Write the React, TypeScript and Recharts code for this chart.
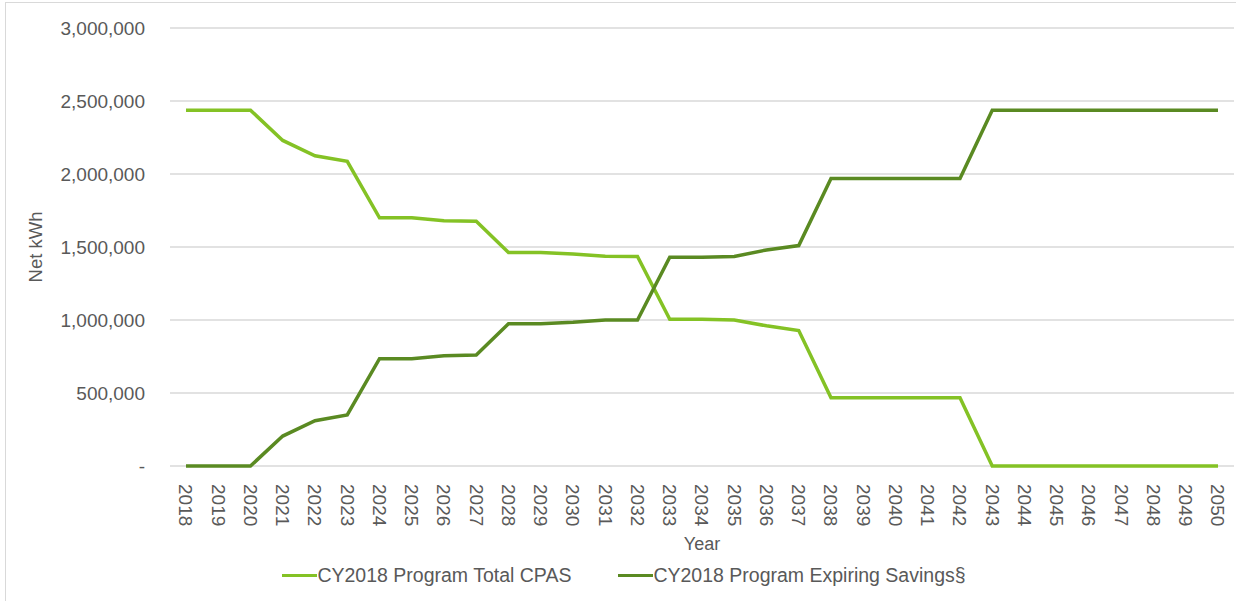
import React from "react"
import { LineChart, Line, XAxis, YAxis, CartesianGrid, Legend } from "recharts"

const years = [
  "2018", "2019", "2020", "2021", "2022", "2023", "2024", "2025", "2026", "2027",
  "2028", "2029", "2030", "2031", "2032", "2033", "2034", "2035", "2036", "2037",
  "2038", "2039", "2040", "2041", "2042", "2043", "2044", "2045", "2046", "2047",
  "2048", "2049", "2050",
]

const totalCpas = [
  2437000, 2437000, 2437000, 2230000, 2125000, 2087000, 1700000, 1700000, 1680000, 1677000,
  1462000, 1462000, 1452000, 1437000, 1435000, 1005000, 1005000, 1000000, 960000, 928000,
  467000, 467000, 467000, 467000, 467000, 0, 0, 0, 0, 0,
  0, 0, 0,
]

const expiringSavings = [
  0, 0, 0, 205000, 310000, 350000, 735000, 735000, 755000, 760000,
  975000, 975000, 985000, 1000000, 1000000, 1430000, 1430000, 1435000, 1480000, 1510000,
  1970000, 1970000, 1970000, 1970000, 1970000, 2437000, 2437000, 2437000, 2437000, 2437000,
  2437000, 2437000, 2437000,
]

const yTicks = [0, 500000, 1000000, 1500000, 2000000, 2500000, 3000000]

const LIGHT = "#84c225"
const DARK = "#5a8a22"
const TEXT = "#595959"
const FONT = "'Liberation Sans', Arial, sans-serif"

const data = years.map((year, i) => ({
  year,
  cpas: totalCpas[i],
  expiring: expiringSavings[i],
}))

const fmt = (v: number) => (v === 0 ? "-" : v.toLocaleString("en-US"))

function YearTick(props: any) {
  const { x, y, payload } = props
  return (
    <text
      x={x}
      y={y + 10}
      transform={`rotate(90, ${x}, ${y + 10})`}
      dy="0.35em"
      textAnchor="start"
      fill={TEXT}
      fontSize={19}
      fontFamily={FONT}
    >
      {payload.value}
    </text>
  )
}

function YLabel(props: any) {
  const { viewBox } = props
  const cx = 36
  const cy = viewBox.y + viewBox.height / 2
  return (
    <text
      x={cx}
      y={cy}
      transform={`rotate(-90, ${cx}, ${cy})`}
      textAnchor="middle"
      dy="0.35em"
      fill={TEXT}
      fontSize={18.5}
      fontFamily={FONT}
    >
      Net kWh
    </text>
  )
}

function XLabel(props: any) {
  const { viewBox } = props
  return (
    <text
      x={viewBox.x + viewBox.width / 2}
      y={550}
      textAnchor="middle"
      fill={TEXT}
      fontSize={18}
      fontFamily={FONT}
    >
      Year
    </text>
  )
}

const legendItems = [
  { label: "CY2018 Program Total CPAS", color: LIGHT },
  { label: "CY2018 Program Expiring Savings§", color: DARK },
]

function LegendContent() {
  return (
    <div style={{ display: "flex", justifyContent: "center", gap: 47, marginLeft: 14, paddingTop: 8 }}>
      {legendItems.map((it) => (
        <div key={it.label} style={{ display: "flex", alignItems: "center" }}>
          <div style={{ width: 35, height: 3, background: it.color }} />
          <span style={{ color: TEXT, fontSize: 19.5, fontFamily: FONT }}>{it.label}</span>
        </div>
      ))}
    </div>
  )
}

export default function App() {
  return (
    <div style={{ position: "absolute", left: 0, top: 0, width: 1236, height: 601, background: "#fff" }}>
      <div
        style={{
          position: "absolute",
          left: 5,
          top: 2,
          width: 1231,
          height: 599,
          borderLeft: "1px solid #d9d9d9",
          borderTop: "1px solid #d9d9d9",
          boxSizing: "border-box",
        }}
      />
      <LineChart width={1236} height={601} data={data} margin={{ top: 28, right: 2, left: 0, bottom: 0 }}>
        <CartesianGrid vertical={false} stroke="#d9d9d9" strokeWidth={1.5} />
        <XAxis
          dataKey="year"
          interval={0}
          axisLine={false}
          tickLine={false}
          height={90}
          padding={{ left: 16, right: 16 }}
          tick={<YearTick />}
          label={<XLabel />}
        />
        <YAxis
          width={170}
          domain={[0, 3000000]}
          ticks={yTicks}
          tickFormatter={fmt}
          axisLine={false}
          tickLine={false}
          tickSize={0}
          tickMargin={25}
          tick={{ fill: TEXT, fontSize: 19, fontFamily: FONT }}
          label={<YLabel />}
        />
        <Legend verticalAlign="bottom" height={45} content={<LegendContent />} />
        <Line
          dataKey="cpas"
          name="CY2018 Program Total CPAS"
          stroke={LIGHT}
          strokeWidth={3.5}
          dot={false}
          isAnimationActive={false}
        />
        <Line
          dataKey="expiring"
          name="CY2018 Program Expiring Savings§"
          stroke={DARK}
          strokeWidth={3.5}
          dot={false}
          isAnimationActive={false}
        />
      </LineChart>
    </div>
  )
}
